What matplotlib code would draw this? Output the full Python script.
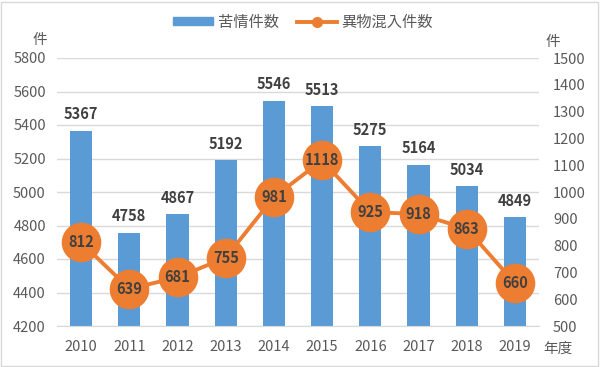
import matplotlib
matplotlib.use("Agg")
import matplotlib.pyplot as plt
from matplotlib.patches import Rectangle
from matplotlib.lines import Line2D

plt.rcParams['font.family'] = ['Noto Sans CJK JP', 'DejaVu Sans']

years = ["2010", "2011", "2012", "2013", "2014", "2015", "2016", "2017", "2018", "2019"]
complaints = [5367, 4758, 4867, 5192, 5546, 5513, 5275, 5164, 5034, 4849]
foreign = [812, 639, 681, 755, 981, 1118, 925, 918, 863, 660]
left_ticks = [4200, 4400, 4600, 4800, 5000, 5200, 5400, 5600, 5800]
right_ticks = [500, 600, 700, 800, 900, 1000, 1100, 1200, 1300, 1400, 1500]
bar_name = "苦情件数"
line_name = "異物混入件数"

bar_color = "#5B9BD5"
line_color = "#ED7D31"
tick_color = "#595959"
label_color = "#404040"

W, H = 600, 367
fig = plt.figure(figsize=(W/100, H/100), dpi=100)
ax = fig.add_axes([57/W, 1-326/H, (539-57)/W, (326-58)/H])
ax2 = ax.twinx()

x = list(range(len(years)))
ax.bar(x, complaints, width=0.46, color=bar_color, zorder=2)
ax.set_ylim(4200, 5800)
ax.set_yticks(left_ticks)
ax.set_xlim(-0.5, len(years)-0.5)
ax.set_xticks(x)
ax.set_xticklabels(years)
ax.grid(axis='y', color="#D9D9D9", linewidth=1, zorder=0)
ax.set_axisbelow(True)
for s in ax.spines.values():
    s.set_visible(False)
for s in ax2.spines.values():
    s.set_visible(False)
ax.spines['bottom'].set_visible(True)
ax.spines['bottom'].set_color("#D9D9D9")
ax.tick_params(axis='both', length=0, labelsize=10.5, colors=tick_color, pad=8)
ax.tick_params(axis='x', pad=10)

for xi, v in zip(x, complaints):
    ax.annotate(str(v), (xi, v), xytext=(0, 6), textcoords='offset points',
                ha='center', va='bottom', fontsize=10.5, fontweight='bold', color=label_color)

ax2.plot(x, foreign, color=line_color, linewidth=2.8, marker='o', markersize=27.5,
         markerfacecolor=line_color, markeredgecolor=line_color, zorder=3)
ax2.set_ylim(500, 1500)
ax2.set_yticks(right_ticks)
ax2.tick_params(axis='y', length=0, labelsize=10.5, colors=tick_color, pad=10)
for xi, v in zip(x, foreign):
    ax2.text(xi, v, str(v), ha='center', va='center', fontsize=10.5, fontweight='bold',
             color=label_color, zorder=4)

fig.text(40/W, 1-40/H, "件", ha='center', va='center', fontsize=10.5, color=tick_color)
fig.text(553/W, 1-42/H, "件", ha='center', va='center', fontsize=10.5, color=tick_color)
fig.text(558/W, 1-349/H, "年度", ha='center', va='center', fontsize=10.5, color=tick_color)

handles = [Rectangle((0, 0), 1, 1, color=bar_color),
           Line2D([0], [0], color=line_color, linewidth=2.8, marker='o', markersize=7)]
fig.legend(handles, [bar_name, line_name], loc='center', bbox_to_anchor=(0.505, 1-22/H),
           ncol=2, frameon=False, fontsize=11, labelcolor=tick_color,
           handlelength=2.6, handleheight=0.5, columnspacing=1.2, handletextpad=0.3)

border = Rectangle((1/W, 1/H), 1-3/W, 1-3/H, transform=fig.transFigure, fill=False,
                   edgecolor="#D9D9D9", linewidth=1)
fig.patches.append(border)

fig.savefig("out.png", dpi=100)
